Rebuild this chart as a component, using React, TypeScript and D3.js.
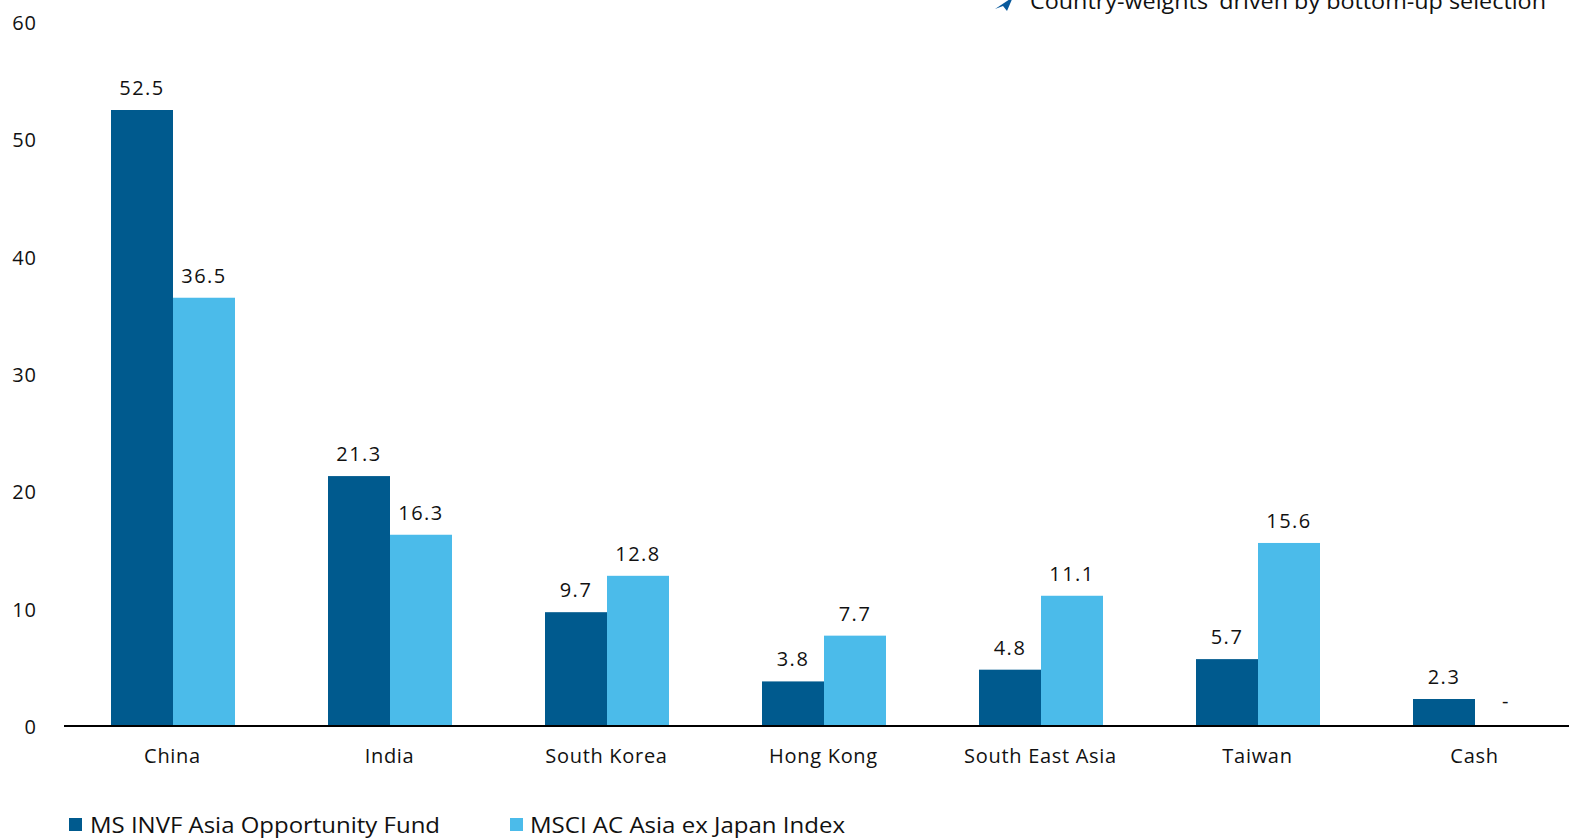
import React from "react";
import * as d3 from "d3";

const categories = ["China", "India", "South Korea", "Hong Kong", "South East Asia", "Taiwan", "Cash"];
const fundValues = [52.5, 21.3, 9.7, 3.8, 4.8, 5.7, 2.3];
const indexValues = [36.5, 16.3, 12.8, 7.7, 11.1, 15.6, 0];
const indexLabels = ["36.5", "16.3", "12.8", "7.7", "11.1", "15.6", "-"];
const fundLabels = ["52.5", "21.3", "9.7", "3.8", "4.8", "5.7", "2.3"];
const seriesNames = ["MS INVF Asia Opportunity Fund", "MSCI AC Asia ex Japan Index"];
const seriesColors = ["#005A8E", "#4BBBEA"];
const yTicks = [0, 10, 20, 30, 40, 50, 60];
const headline = "Country-weights' driven by bottom-up selection";

const W = 1569;
const H = 839;
const FONT = "'Open Sans', 'DejaVu Sans', sans-serif";

export default function App() {
  const x0 = d3.scaleBand<string>().domain(categories).range([64, 64 + 217 * 7]).paddingInner(0).paddingOuter(0);
  const x1 = d3.scaleBand<string>().domain(["fund", "index"]).range([47, 171]).padding(0);
  const y = d3.scaleLinear().domain([0, 60]).range([726, 22]);

  const series = [
    { key: "fund", values: fundValues, labels: fundLabels, color: seriesColors[0] },
    { key: "index", values: indexValues, labels: indexLabels, color: seriesColors[1] },
  ];

  return (
    <svg
      width={W}
      height={H}
      viewBox={`0 0 ${W} ${H}`}
      style={{ position: "absolute", left: 0, top: 0, background: "#fff" }}
      fontFamily={FONT}
    >
      <rect x={0} y={0} width={W} height={H} fill="#fff" />

      {/* y tick labels */}
      {yTicks.map((t) => (
        <text key={t} x={37} y={y(t) + 8} textAnchor="end" fontSize={20} letterSpacing={1} fill="#111">
          {t}
        </text>
      ))}

      {/* bars and value labels */}
      {categories.map((c, i) => (
        <g key={c} transform={`translate(${x0(c)},0)`}>
          {series.map((s) => {
            const bx = x1(s.key)!;
            const bw = x1.bandwidth();
            const v = s.values[i];
            return (
              <g key={s.key}>
                {v > 0 && (
                  <rect x={bx} y={y(v)} width={bw} height={y(0) - y(v)} fill={s.color} />
                )}
                <text
                  x={bx + bw / 2}
                  y={y(v) - (v > 0 ? 15 : 18)}
                  textAnchor="middle"
                  fontSize={20}
                  letterSpacing={1.5}
                  fill="#111"
                >
                  {s.labels[i]}
                </text>
              </g>
            );
          })}
          <text
            x={x0.bandwidth() / 2}
            y={763}
            textAnchor="middle"
            fontSize={20}
            letterSpacing={0.7}
            fill="#111"
          >
            {c}
          </text>
        </g>
      ))}

      {/* baseline */}
      <line x1={64} x2={W} y1={y(0)} y2={y(0)} stroke="#000" strokeWidth={2} />

      {/* headline bullet */}
      <path d="M995,9 L1013,-3 L1007,11 L1003,6 Z" fill="#0A5A9C" />
      <text x={1030} y={9} fontSize={21} fill="#111" textLength={516} lengthAdjust="spacingAndGlyphs">
        {headline}
      </text>

      {/* legend */}
      <rect x={69} y={818} width={13} height={13} fill={seriesColors[0]} />
      <text x={90} y={833} fontSize={22} fill="#111" textLength={350} lengthAdjust="spacingAndGlyphs">
        {seriesNames[0]}
      </text>
      <rect x={510} y={818} width={13} height={13} fill={seriesColors[1]} />
      <text x={530} y={833} fontSize={22} fill="#111" textLength={315} lengthAdjust="spacingAndGlyphs">
        {seriesNames[1]}
      </text>
    </svg>
  );
}
